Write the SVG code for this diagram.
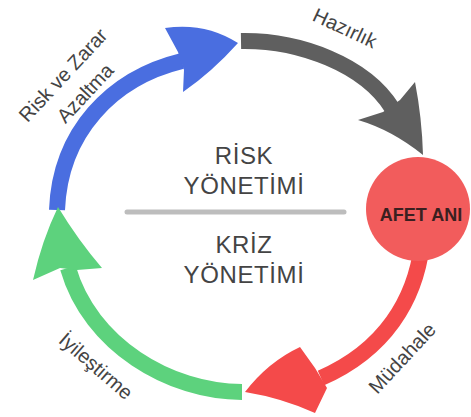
<svg xmlns="http://www.w3.org/2000/svg" width="471" height="417" viewBox="0 0 471 417">
<style>
.shaft{fill:none;stroke-width:16;stroke-linecap:butt}
.lbl{font-family:"Liberation Sans",Arial,sans-serif;font-size:20px;fill:#444;text-anchor:middle}
.mid{font-family:"Liberation Sans",Arial,sans-serif;font-size:24px;letter-spacing:0.6px;fill:#444;text-anchor:middle}
</style>
<rect width="471" height="417" fill="#fff"/>
<g id="connectors">
  <g id="arrow-blue">
    <path class="shaft" stroke="#4a6ee0" d="M57,210 C60,132 112,78 182,61"/>
    <path fill="#4a6ee0" d="M165,28 Q205,22 238,43 Q212,72 183,92 L184,70 L178,52 Z"/>
  </g>
  <g id="arrow-gray">
    <path class="shaft" stroke="#5f5f5f" d="M241,41 C300,40 365,65 392,108"/>
    <path fill="#5f5f5f" d="M415,82 Q422,118 423,155 Q392,130 358,120 L383,112 L400,100 Z"/>
  </g>
  <g id="arrow-red">
    <path class="shaft" stroke="#f44a4a" d="M422,245 C415,300 385,350 321,378"/>
    <path fill="#f44a4a" d="M300,347 Q268,362 245,392 Q282,398 315,413 L327,388 L315,368 Z"/>
  </g>
  <g id="arrow-green">
    <path class="shaft" stroke="#5dd27d" d="M242,392 C170,392 90,345 68,268"/>
    <path fill="#5dd27d" d="M33,280 Q42,240 58,207 Q78,240 102,268 L77,270 L60,268 Z"/>
  </g>
  <line x1="127" y1="212" x2="344" y2="212" stroke="#bdbdbd" stroke-width="5" stroke-linecap="round"/>
</g>
<g id="node-afet">
  <circle cx="418" cy="209" r="52" fill="#f25c5c"/>
  <text x="421" y="221" font-family="Liberation Sans,Arial,sans-serif" font-size="18" font-weight="bold" fill="#3a2020" text-anchor="middle">AFET ANI</text>
</g>
<g id="node-risk">
  <text class="mid" x="244" y="164">RİSK</text>
  <text class="mid" x="244" y="194">YÖNETİMİ</text>
</g>
<g id="node-kriz">
  <text class="mid" x="244" y="253">KRİZ</text>
  <text class="mid" x="244" y="283">YÖNETİMİ</text>
</g>
<g id="label-hazirlik" transform="translate(345,28) rotate(25)">
  <text class="lbl" x="0" y="7">Hazırlık</text>
</g>
<g id="label-risk-zarar" transform="translate(63,75) rotate(-47)">
  <text class="lbl" x="0" y="7">Risk ve Zarar</text>
</g>
<g id="label-azaltma" transform="translate(85,93) rotate(-47)">
  <text class="lbl" x="0" y="7">Azaltma</text>
</g>
<g id="label-mudahale" transform="translate(402,358) rotate(-47)">
  <text class="lbl" x="0" y="7">Müdahale</text>
</g>
<g id="label-iyilestirme" transform="translate(96,366) rotate(41)">
  <text class="lbl" x="0" y="7">İyileştirme</text>
</g>
</svg>
